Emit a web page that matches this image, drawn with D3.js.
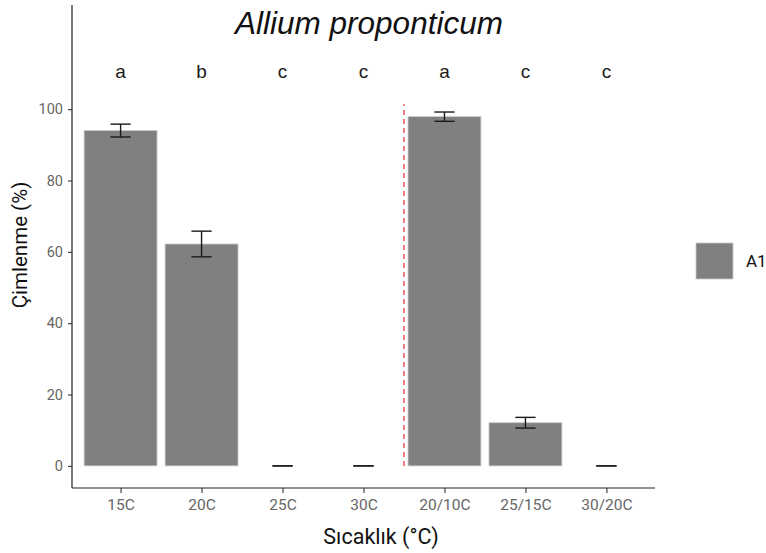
<!DOCTYPE html>
<html>
<head>
<meta charset="utf-8">
<script src="https://cdn.jsdelivr.net/npm/d3@7"></script>
<style>
  body { margin: 0; background: #fff; }
  svg { display: block; font-family: Roboto, "Liberation Sans", sans-serif; }
</style>
</head>
<body>
<svg id="chart" width="766" height="553"></svg>
<script>
// Germination (%) by temperature treatment, series A1
const categories = ["15C", "20C", "25C", "30C", "20/10C", "25/15C", "30/20C"];
const means = [94.0, 62.2, 0, 0, 97.9, 12.1, 0];
const errors = [1.8, 3.6, 0, 0, 1.3, 1.5, 0];
const groupLetters = ["a", "b", "c", "c", "a", "c", "c"];
const yTicks = [0, 20, 40, 60, 80, 100];
const seriesName = "A1";
const titleText = "Allium proponticum";
const letterLevel = 110.6;
const dividerPos = 4.5;   // between constant and alternating regimes
const dividerTop = 101.4;

const svg = d3.select("#chart");
const plotLeft = 72, plotRight = 655, plotTop = 5, plotBottom = 488;

const x = d3.scaleLinear().domain([0.4, 7.6]).range([plotLeft, plotRight]);
const y = d3.scaleLinear().domain([-6.2, 129.2]).range([plotBottom, plotTop]);
const step = x(2) - x(1);
const barW = step * 0.9;
const capW = step * 0.25;

const g = svg.append("g");

// bars
g.selectAll("rect.bar").data(means).join("rect")
  .attr("class", "bar")
  .attr("x", (d, i) => x(i + 1) - barW / 2)
  .attr("width", barW)
  .attr("y", d => y(d))
  .attr("height", d => y(0) - y(d))
  .attr("fill", "#808080")
  .attr("stroke", "#c8c8c8")
  .attr("stroke-width", 0.8);

// error bars
const eb = g.selectAll("g.err").data(means).join("g").attr("class", "err");
eb.append("line")
  .attr("x1", (d, i) => x(i + 1)).attr("x2", (d, i) => x(i + 1))
  .attr("y1", (d, i) => y(d + errors[i])).attr("y2", (d, i) => y(d - errors[i]));
eb.append("line")
  .attr("x1", (d, i) => x(i + 1) - capW / 2).attr("x2", (d, i) => x(i + 1) + capW / 2)
  .attr("y1", (d, i) => y(d + errors[i])).attr("y2", (d, i) => y(d + errors[i]));
eb.append("line")
  .attr("x1", (d, i) => x(i + 1) - capW / 2).attr("x2", (d, i) => x(i + 1) + capW / 2)
  .attr("y1", (d, i) => y(d - errors[i])).attr("y2", (d, i) => y(d - errors[i]));
eb.selectAll("line").attr("stroke", "#1a1a1a").attr("stroke-width", 1.4);

// divider between regimes
g.append("line")
  .attr("x1", x(dividerPos)).attr("x2", x(dividerPos))
  .attr("y1", y(0)).attr("y2", y(dividerTop))
  .attr("stroke", "#e8474a").attr("stroke-width", 1.4)
  .attr("stroke-dasharray", "5,4");

// significance letters
g.selectAll("text.letter").data(groupLetters).join("text")
  .attr("class", "letter")
  .attr("x", (d, i) => x(i + 1))
  .attr("y", y(letterLevel))
  .attr("dy", "0.35em")
  .attr("text-anchor", "middle")
  .attr("font-family", "'Liberation Sans', Arial, sans-serif")
  .attr("font-size", 19)
  .attr("fill", "#1a1a1a")
  .text(d => d);

// title
svg.append("text")
  .attr("x", 369).attr("y", 34)
  .attr("text-anchor", "middle")
  .attr("font-family", "'Liberation Sans', Arial, sans-serif")
  .attr("font-size", 31.5).attr("font-style", "italic")
  .attr("fill", "#111")
  .text(titleText);

// axes
const yAxis = svg.append("g").attr("transform", `translate(${plotLeft},0)`)
  .call(d3.axisLeft(y).tickValues(yTicks).tickSize(4).tickPadding(5));
yAxis.select(".domain").attr("d", `M0,${plotTop}V${plotBottom}`);
const xAxis = svg.append("g").attr("transform", `translate(0,${plotBottom})`)
  .call(d3.axisBottom(x).tickValues(d3.range(1, 8)).tickFormat(i => categories[i - 1]).tickSize(5).tickPadding(6));
xAxis.select(".domain").attr("d", `M${plotLeft},0H${plotRight}`);
[yAxis, xAxis].forEach(a => {
  a.select(".domain").attr("stroke", "#222").attr("stroke-width", 1.2);
  a.selectAll(".tick line").attr("stroke", "#333").attr("stroke-width", 1.1);
  a.selectAll(".tick text").attr("fill", "#666")
    .attr("font-family", "Roboto, 'Liberation Sans', sans-serif");
});
yAxis.selectAll(".tick text").attr("font-size", 14.5);
xAxis.selectAll(".tick text").attr("font-size", 15.5);

// axis titles
svg.append("text")
  .attr("x", 381).attr("y", 544)
  .attr("text-anchor", "middle").attr("font-size", 21.5).attr("fill", "#111")
  .text("Sıcaklık (°C)");
svg.append("text")
  .attr("transform", `translate(27,245) rotate(-90)`)
  .attr("text-anchor", "middle").attr("font-size", 20.5).attr("fill", "#111")
  .text("Çimlenme (%)");

// legend
const lg = svg.append("g").attr("transform", "translate(696,243)");
lg.append("rect").attr("width", 37).attr("height", 36)
  .attr("fill", "#808080").attr("stroke", "#c8c8c8").attr("stroke-width", 0.8);
lg.append("text").attr("x", 50).attr("y", 18).attr("dy", "0.35em")
  .attr("font-size", 17).attr("fill", "#111").text(seriesName);
</script>
</body>
</html>
